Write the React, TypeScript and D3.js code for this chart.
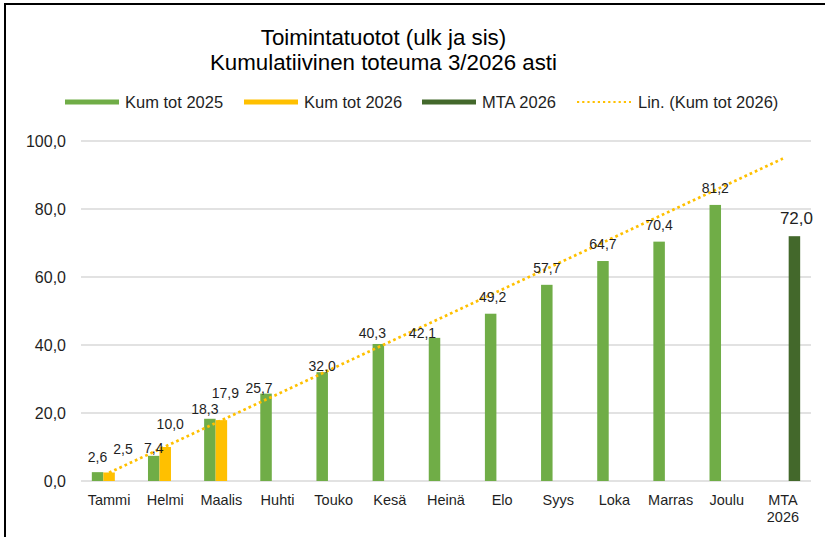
import React from "react";
import * as d3 from "d3";

const categories = ["Tammi", "Helmi", "Maalis", "Huhti", "Touko", "Kesä", "Heinä", "Elo", "Syys", "Loka", "Marras", "Joulu", "MTA 2026"];
const kumTot2025: (number | null)[] = [2.6, 7.4, 18.3, 25.7, 32.0, 40.3, 42.1, 49.2, 57.7, 64.7, 70.4, 81.2, null];
const kumTot2026: (number | null)[] = [2.5, 10.0, 17.9, null, null, null, null, null, null, null, null, null, null];
const mta2026: (number | null)[] = [null, null, null, null, null, null, null, null, null, null, null, null, 72.0];
const yTicks = [0, 20, 40, 60, 80, 100];
const seriesNames = ["Kum tot 2025", "Kum tot 2026", "MTA 2026"];
const trendName = "Lin. (Kum tot 2026)";
const titleLines = ["Toimintatuotot (ulk ja sis)", "Kumulatiivinen toteuma 3/2026 asti"];

// label nudges (dx, dy) – styling only
const nudge2025: [number, number][] = [[0, 2], [0, 9], [-5, 7], [-7, 11], [0, 11], [-6, 6], [-12, 12], [2, 0], [0, 0], [0, 0], [0, 0], [0, 0], [0, 0]];
const nudge2026: [number, number][] = [[14, -7], [5, -6], [4, -10]];

const COLORS = ["#70AD47", "#FFC000", "#43682B"];
const FONT = "'Liberation Sans', Arial, sans-serif";
const TXT = "#1f1f1f";

const W = 825, H = 537;
const plot = { left: 81, right: 811, top: 141, bottom: 481 };

const fmt = (v: number) => d3.format(".1f")(v).replace(".", ",");

export default function App() {
  const x = d3.scaleBand<string>().domain(categories).range([plot.left, plot.right]).padding(0);
  const groupW = x.bandwidth() * 0.6144;
  const inner = d3.scaleBand<number>().domain([0, 1, 2]).range([-groupW / 2, groupW / 2]).padding(0);
  const y = d3.scaleLinear().domain([0, 100]).range([plot.bottom, plot.top]);
  const cx = (i: number) => (x(categories[i]) as number) + x.bandwidth() / 2;

  const series = [kumTot2025, kumTot2026, mta2026];

  // linear trend of Kum tot 2026
  const pts = kumTot2026.map((v, i) => [i + 1, v] as [number, number | null]).filter((p) => p[1] != null) as [number, number][];
  const mx = d3.mean(pts, (p) => p[0]) as number;
  const my = d3.mean(pts, (p) => p[1]) as number;
  const slope = d3.sum(pts, (p) => (p[0] - mx) * (p[1] - my)) / d3.sum(pts, (p) => (p[0] - mx) ** 2);
  const icpt = my - slope * mx;
  const trendX = [1, categories.length];
  const line = d3.line<number>().x((k) => cx(k - 1)).y((k) => y(icpt + slope * k));

  const legendX = [65, 244, 422, 577];
  const legendY = 102;

  return (
    <svg width={W} height={H} style={{ position: "fixed", left: 0, top: 0, background: "#fff" }} fontFamily={FONT}>
      <rect x={0} y={0} width={W} height={H} fill="#fff" />
      <path d={`M5,${H} V4 H${W}`} fill="none" stroke="#000" strokeWidth={2} />

      {titleLines.map((t, i) => (
        <text key={t} x={W / 2 - 29} y={45 + i * 25} textAnchor="middle" fontSize={22.3} fill="#000">{t}</text>
      ))}

      {seriesNames.map((n, i) => (
        <g key={n}>
          <rect x={legendX[i]} y={legendY - 2.5} width={54} height={5} fill={COLORS[i]} />
          <text x={legendX[i] + 60} y={legendY + 6} fontSize={16.5} fill={TXT}>{n}</text>
        </g>
      ))}
      <line x1={legendX[3]} x2={legendX[3] + 54} y1={legendY} y2={legendY} stroke="#FFC000" strokeWidth={2.2} strokeDasharray="2.2 3" />
      <text x={legendX[3] + 61} y={legendY + 6} fontSize={16.5} fill={TXT}>{trendName}</text>

      {yTicks.map((t) => (
        <g key={t}>
          <line x1={plot.left} x2={plot.right} y1={y(t)} y2={y(t)} stroke="#d9d9d9" strokeWidth={1.5} />
          <text x={66} y={y(t) + 5.5} textAnchor="end" fontSize={16} fill={TXT}>{fmt(t)}</text>
        </g>
      ))}

      {series.map((s, si) =>
        s.map((v, i) =>
          v == null ? null : (
            <rect key={`${si}-${i}`} x={cx(i) + (inner(si) as number)} y={y(v)} width={inner.bandwidth()} height={y(0) - y(v)} fill={COLORS[si]} />
          )
        )
      )}

      <path d={line(trendX) as string} fill="none" stroke="#FFC000" strokeWidth={2.7} strokeDasharray="2.7 3" />

      {series.map((s, si) =>
        s.map((v, i) => {
          if (v == null) return null;
          const n = si === 0 ? nudge2025[i] : si === 1 ? nudge2026[i] : [2, 0];
          const bx = cx(i) + (inner(si) as number) + inner.bandwidth() / 2;
          return (
            <text key={`l${si}-${i}`} x={bx + n[0]} y={y(v) - 12 + n[1]} textAnchor="middle" fontSize={si === 2 ? 17 : 14} fill={TXT}>
              {fmt(v)}
            </text>
          );
        })
      )}

      {categories.map((c, i) => {
        const parts = c.split(" ");
        return (
          <text key={c} x={cx(i)} y={505} textAnchor="middle" fontSize={14.5} fill={TXT}>
            {parts.map((p, k) => (
              <tspan key={k} x={cx(i)} dy={k === 0 ? 0 : 17}>{p}</tspan>
            ))}
          </text>
        );
      })}
    </svg>
  );
}
